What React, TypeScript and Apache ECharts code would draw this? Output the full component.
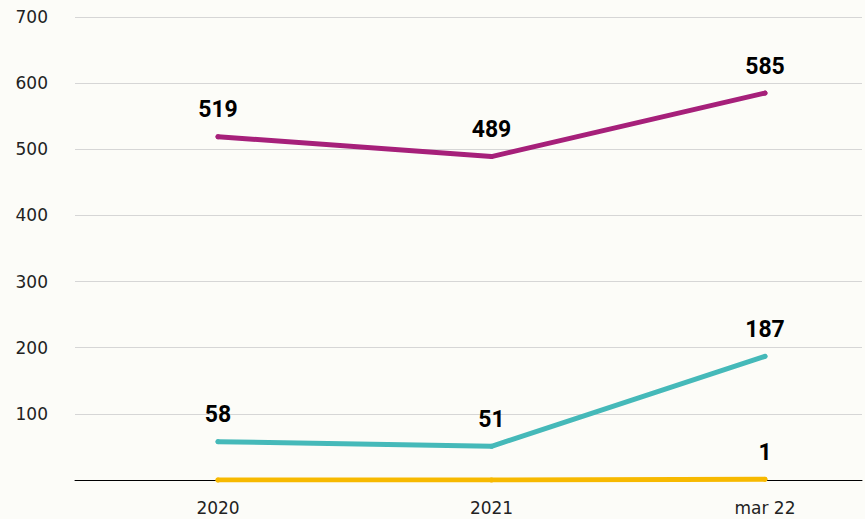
import React, { useEffect, useRef } from "react";
import * as echarts from "echarts";

const categories = ["2020", "2021", "mar 22"];
const purpleValues = [519, 489, 585];
const tealValues = [58, 51, 187];
const yellowValues = [0, 0, 1];
const yTicks = { min: 0, max: 700, interval: 100 };

const labelStyle = {
  show: true,
  position: "top" as const,
  distance: 13,
  color: "#000",
  fontFamily: "Roboto",
  fontWeight: "bold" as const,
  fontSize: 23,
  formatter: (p: any) => (p.value === 0 ? "" : String(p.value)),
};

export default function App() {
  const ref = useRef<HTMLDivElement>(null);
  useEffect(() => {
    if (!ref.current) return;
    const chart = echarts.init(ref.current, undefined, { renderer: "svg" });
    const lineSeries = (data: number[], color: string, z: number) => ({
      type: "line",
      xAxisIndex: 1,
      yAxisIndex: 1,
      data,
      symbol: "circle",
      symbolSize: 5,
      showSymbol: true,
      itemStyle: { color },
      z,
      lineStyle: { color, width: 5, cap: "round", join: "round" },
      label: labelStyle,
    });
    chart.setOption({
      animation: false,
      backgroundColor: "#fcfcf8",
      grid: [
        { left: 75, right: 3, top: 17, bottom: 39 },
        { left: 218, right: 100, top: 17, bottom: 39 },
      ],
      xAxis: [
        {
          type: "value",
          gridIndex: 0,
          min: 0,
          max: 1,
          axisLabel: { show: false },
          axisTick: { show: false },
          splitLine: { show: false },
          axisLine: { show: true, lineStyle: { color: "#000", width: 1 } },
          z: 1,
        },
        {
          type: "category",
          gridIndex: 1,
          data: categories,
          boundaryGap: false,
          axisLine: { show: false },
          axisTick: { show: false },
          axisLabel: {
            color: "#222",
            fontFamily: "DejaVu Sans",
            fontSize: 17,
            margin: 19,
          },
        },
      ],
      yAxis: [
        {
          type: "value",
          gridIndex: 0,
          ...yTicks,
          axisLine: { show: false },
          axisTick: { show: false },
          axisLabel: {
            color: "#222",
            fontFamily: "DejaVu Sans",
            fontSize: 17,
            margin: 27,
            formatter: (v: number) => (v === 0 ? "" : String(v)),
          },
          splitLine: { show: true, lineStyle: { color: "#d6d6d6", width: 1 } },
        },
        {
          type: "value",
          gridIndex: 1,
          ...yTicks,
          show: false,
          splitLine: { show: false },
        },
      ],
      series: [
        lineSeries(yellowValues, "#f7b900", 3),
        lineSeries(tealValues, "#45b9b9", 4),
        lineSeries(purpleValues, "#a6207a", 5),
      ],
    });
    return () => chart.dispose();
  }, []);
  return <div ref={ref} style={{ width: 865, height: 519, position: "absolute", left: 0, top: 0 }} />;
}
